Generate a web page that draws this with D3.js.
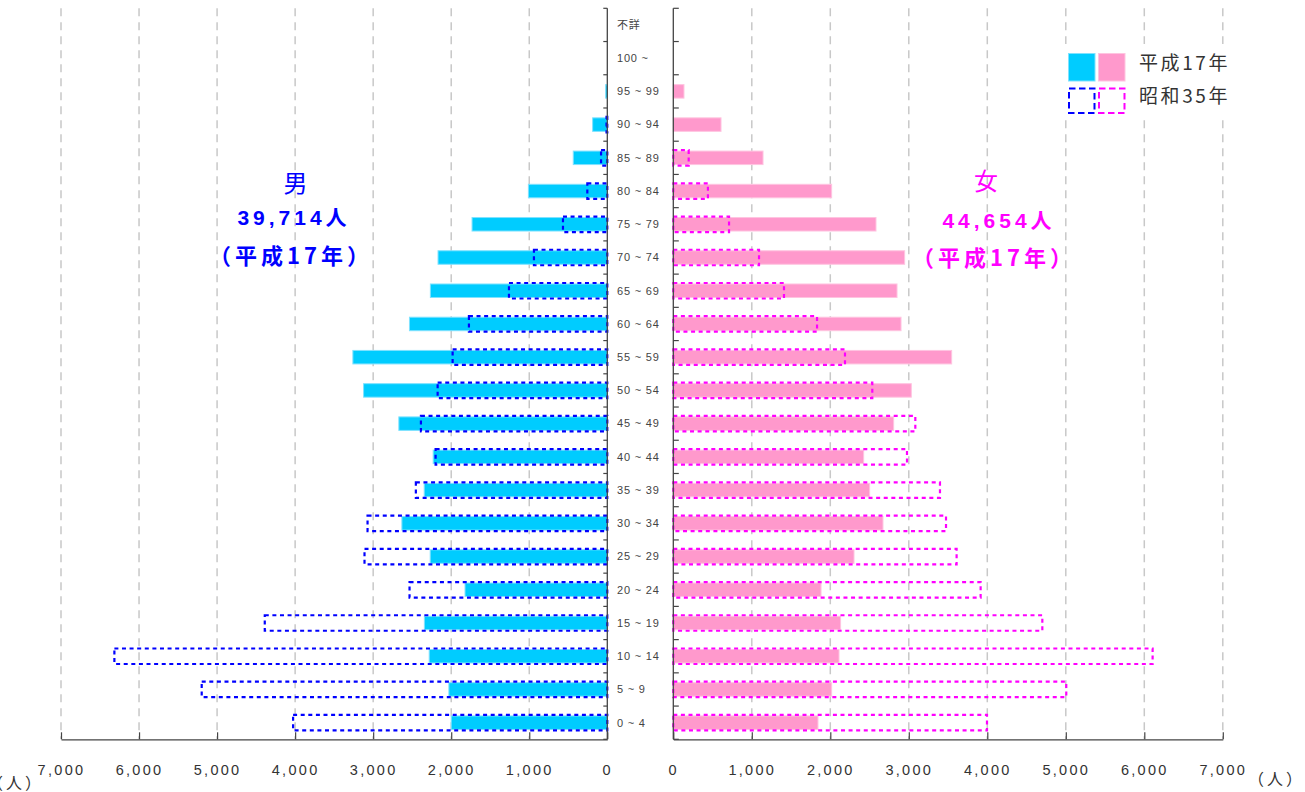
<!DOCTYPE html>
<html><head><meta charset="utf-8">
<script src="https://cdn.jsdelivr.net/npm/d3@7"></script>
<style>
html,body{margin:0;padding:0;background:#fff;overflow:hidden}
svg{display:block}
</style></head>
<body>
<svg id="chart" width="1305" height="792"></svg>
<script>
// age groups, bottom (0~4) to top (不詳)
const ageGroups = ["0 ~ 4","5 ~ 9","10 ~ 14","15 ~ 19","20 ~ 24","25 ~ 29","30 ~ 34","35 ~ 39","40 ~ 44","45 ~ 49","50 ~ 54","55 ~ 59","60 ~ 64","65 ~ 69","70 ~ 74","75 ~ 79","80 ~ 84","85 ~ 89","90 ~ 94","95 ~ 99","100 ~","不詳"];
const male2005   = [2000,2030,2282,2344,1823,2269,2632,2346,2231,2671,3123,3260,2535,2267,2169,1733,1011,436,188,21,0,0];
const male1960   = [4026,5197,6316,4389,2534,3111,3072,2453,2200,2388,2174,1982,1773,1260,940,568,256,80,10,0,0,0];
const female2005 = [1843,2017,2111,2131,1882,2302,2671,2501,2425,2807,3032,3546,2901,2850,2947,2582,2017,1143,608,136,0,0];
const female1960 = [3996,5006,6106,4701,3915,3609,3474,3397,2977,3083,2535,2187,1831,1410,1092,710,441,196,0,0,0,0];
const xTicks = [0,1000,2000,3000,4000,5000,6000,7000];
const maleTitle = ["男","39,714人","（平成17年）"];
const femaleTitle = ["女","44,654人","（平成17年）"];
const legendLabels = ["平成17年","昭和35年"];
const unitChars = ["（","人","）"];

const svg = d3.select("#chart");
const FONT = "'Liberation Sans', Arial, sans-serif";
const CJK = "'Noto Sans CJK JP', 'Liberation Sans', sans-serif";

const yTop = 8.3, yBot = 739.3;
const xL = d3.scaleLinear().domain([0,7000]).range([607.3, 61]);
const xR = d3.scaleLinear().domain([0,7000]).range([673.3, 1222.8]);
const y = d3.scaleBand().domain(ageGroups.slice().reverse()).range([yTop, yBot]);

const rows = ageGroups.map((g,i)=>({g, m5:male2005[i], m6:male1960[i], f5:female2005[i], f6:female1960[i]}));

// gridlines
const grid = svg.append("g");
xTicks.filter(t=>t>0).forEach(t=>{
  [xL(t), xR(t)].forEach(x=>{
    grid.append("line").attr("x1",x).attr("x2",x).attr("y1",yTop).attr("y2",yBot)
      .attr("stroke","#c8c8c8").attr("stroke-width",1.5).attr("stroke-dasharray","8,6");
  });
});

const fh = 13.5, dh = 15.5;
const cy = d => y(d.g) + y.bandwidth()/2;

// filled bars (2005)
svg.append("g").selectAll("rect").data(rows.filter(d=>d.m5>0)).join("rect")
  .attr("x", d=>xL(d.m5)).attr("width", d=>xL(0)-xL(d.m5))
  .attr("y", d=>cy(d)-fh/2).attr("height", fh)
  .attr("fill","#00ccff").attr("stroke","#7fe2ff").attr("stroke-width",1);
svg.append("g").selectAll("rect").data(rows.filter(d=>d.f5>0)).join("rect")
  .attr("x", xR(0)).attr("width", d=>xR(d.f5)-xR(0))
  .attr("y", d=>cy(d)-fh/2).attr("height", fh)
  .attr("fill","#ff99cc").attr("stroke","#ffc4e0").attr("stroke-width",1);

// dotted bars (1960)
svg.append("g").selectAll("rect").data(rows.filter(d=>d.m6>0)).join("rect")
  .attr("x", d=>xL(d.m6)).attr("width", d=>xL(0)-xL(d.m6))
  .attr("y", d=>cy(d)-dh/2).attr("height", dh)
  .attr("fill","none").attr("stroke","#0000ff").attr("stroke-width",2.2).attr("stroke-dasharray","4,3.6");
svg.append("g").selectAll("rect").data(rows.filter(d=>d.f6>0)).join("rect")
  .attr("x", xR(0)).attr("width", d=>xR(d.f6)-xR(0))
  .attr("y", d=>cy(d)-dh/2).attr("height", dh)
  .attr("fill","none").attr("stroke","#ff00ff").attr("stroke-width",2.2).attr("stroke-dasharray","4,3.6");

// vertical axes with boundary ticks
const axC = "#444";
svg.append("line").attr("x1",xL(0)).attr("x2",xL(0)).attr("y1",yTop).attr("y2",yBot).attr("stroke",axC).attr("stroke-width",1.3);
svg.append("line").attr("x1",xR(0)).attr("x2",xR(0)).attr("y1",yTop).attr("y2",yBot).attr("stroke",axC).attr("stroke-width",1.3);
const bounds = y.domain().map(g=>y(g)).concat([yBot]);
bounds.forEach(b=>{
  svg.append("line").attr("x1",xL(0)-4).attr("x2",xL(0)).attr("y1",b).attr("y2",b).attr("stroke",axC).attr("stroke-width",1.2);
  svg.append("line").attr("x1",xR(0)).attr("x2",xR(0)+5.5).attr("y1",b).attr("y2",b).attr("stroke",axC).attr("stroke-width",1.2);
});

// category labels
svg.append("g").selectAll("text").data(rows).join("text")
  .attr("x",617).attr("y",d=>cy(d)).attr("dy","0.35em")
  .attr("font-family", d=>d.g==="不詳"?CJK:FONT).attr("font-size",11).attr("fill","#444")
  .attr("letter-spacing", 0.8)
  .text(d=>d.g);

// bottom axes
function styleAxis(g){
  g.select(".domain").attr("stroke",axC).attr("stroke-width",1.3);
  g.selectAll(".tick line").attr("stroke",axC).attr("stroke-width",1.2);
  g.selectAll(".tick text").attr("y",31).attr("dy","0.35em")
    .attr("font-family",FONT).attr("font-size",14.5).attr("fill","#333").attr("letter-spacing",2.3);
}
const fmt = d3.format(",");
svg.append("g").attr("transform",`translate(0,${yBot})`)
  .call(d3.axisBottom(xL).tickValues(xTicks).tickFormat(fmt).tickSizeInner(-7).tickSizeOuter(0))
  .call(styleAxis);
svg.append("g").attr("transform",`translate(0,${yBot})`)
  .call(d3.axisBottom(xR).tickValues(xTicks).tickFormat(fmt).tickSizeInner(-7).tickSizeOuter(0))
  .call(styleAxis);

// unit labels
function unit(x, yy){
  const t = svg.append("text").attr("x",x).attr("y",yy).attr("font-family",CJK).attr("font-size",16).attr("fill","#333");
  unitChars.forEach((c,i)=>t.append("tspan").attr("dx", i===0?0:3).text(c));
}
unit(1248, 785);
unit(-13, 789);

// side titles
function title(lines, cx, ys, color){
  svg.append("text").attr("x",cx[0]).attr("y",ys[0]).attr("dy","0.35em").attr("text-anchor","middle")
    .attr("font-family",CJK).attr("font-size",24).attr("fill",color).text(lines[0]);
  svg.append("text").attr("x",cx[1]).attr("y",ys[1]).attr("dy","0.35em").attr("text-anchor","middle")
    .attr("font-family",FONT).attr("font-weight","bold").attr("font-size",21).attr("letter-spacing",4).attr("fill",color)
    .text(lines[1].replace("人","")).append("tspan").attr("font-family",CJK).text("人");
  svg.append("text").attr("x",cx[2]).attr("y",ys[2]).attr("dy","0.35em").attr("text-anchor","middle")
    .attr("font-family",CJK).attr("font-weight","bold").attr("font-size",22).attr("letter-spacing",4).attr("fill",color).text(lines[2]);
}
title(maleTitle, [295.5, 294, 291], [184, 218, 256], "#0000ff");
title(femaleTitle, [986, 999, 994], [182, 221, 258], "#ff00ff");

// legend
const lg = svg.append("g");
lg.append("rect").attr("x",1058).attr("y",44).attr("width",180).attr("height",72).attr("fill","#fff");
lg.append("rect").attr("x",1068.5).attr("y",53.5).attr("width",26.5).attr("height",27.5).attr("fill","#00ccff").attr("stroke","#7fe2ff");
lg.append("rect").attr("x",1098.5).attr("y",53.5).attr("width",26.5).attr("height",27.5).attr("fill","#ff99cc").attr("stroke","#ffc4e0");
lg.append("rect").attr("x",1069).attr("y",88.5).attr("width",25.5).attr("height",24.5).attr("fill","none").attr("stroke","#0000ff").attr("stroke-width",2).attr("stroke-dasharray","6.5,3.5");
lg.append("rect").attr("x",1099).attr("y",88.5).attr("width",25.5).attr("height",24.5).attr("fill","none").attr("stroke","#ff00ff").attr("stroke-width",2).attr("stroke-dasharray","6.5,3.5");
lg.selectAll("text.lab").data(legendLabels).join("text")
  .attr("x",1139).attr("y",(d,i)=>63.5+i*33).attr("dy","0.35em")
  .attr("font-family",CJK).attr("font-size",19).attr("fill","#333").attr("letter-spacing",2.6).text(d=>d);
</script>
</body></html>
